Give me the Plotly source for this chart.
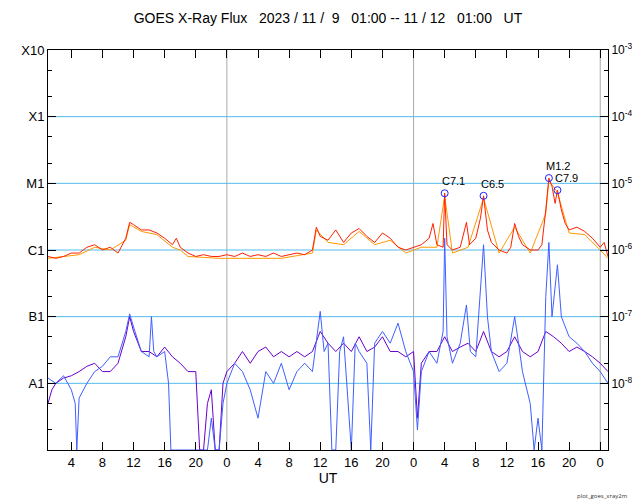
import math
import plotly.graph_objects as go

# time in hours since 2023-11-09 01:00 UT
red_t = [0,1,2,3,4,5,6,7,8,9,10,10.5,11,12,13,14,15,16,16.5,17,18,19,20,21,22,23,24,25,26,27,28,29,30,31,32,33,34,34.5,35,36,37,38,39,40,41,42,43,44,45,46,47,48,49,49.5,50,50.8,51.0,51.3,52,53,53.8,54.2,55,55.6,56.0,56.5,57,58,59,59.5,60,60.5,61,62,63,63.5,64.0,64.4,64.8,65.2,65.5,66,66.5,67,68,69,70,71,71.5,72]
red_v = [8e-7,7.5e-7,8e-7,9e-7,9e-7,1.1e-6,1.2e-6,1.0e-6,1.1e-6,9e-7,1.5e-6,2.6e-6,2.4e-6,2.0e-6,2.0e-6,1.8e-6,1.5e-6,1.2e-6,1.5e-6,1.1e-6,9e-7,8e-7,8.5e-7,8e-7,8e-7,8.5e-7,8e-7,9e-7,8e-7,8.5e-7,8e-7,9e-7,8e-7,8.5e-7,9e-7,8.5e-7,1.0e-6,2.2e-6,1.6e-6,1.4e-6,2.0e-6,1.3e-6,1.8e-6,2.1e-6,1.6e-6,1.3e-6,1.8e-6,1.5e-6,1.1e-6,1.0e-6,1.1e-6,1.2e-6,1.5e-6,2.5e-6,1.2e-6,1.1e-6,7.1e-6,1.2e-6,1.0e-6,1.1e-6,2.6e-6,1.2e-6,1.5e-6,3e-6,6.5e-6,2e-6,1.3e-6,1.0e-6,9e-7,1.1e-6,2.5e-6,1.6e-6,1.2e-6,1.0e-6,1.0e-6,1.2e-6,4e-6,1.2e-5,9e-6,5e-6,7.9e-6,4e-6,2.5e-6,2.0e-6,2.2e-6,1.9e-6,1.5e-6,1.1e-6,1.3e-6,8e-7]

orange_t = [0,4,6,8,10,10.5,12,14,16,17,18,22,26,30,34,34.5,36,38,40,42,44,46,48,50,51,52,54,56,58,60,62,64,64.4,65.5,67,69,71,72]
orange_v = [7.5e-7,8.5e-7,1.1e-6,1.0e-6,1.4e-6,2.4e-6,1.9e-6,1.7e-6,1.1e-6,1.0e-6,8e-7,7.5e-7,7.5e-7,7.5e-7,9e-7,2.0e-6,1.3e-6,1.2e-6,1.9e-6,1.2e-6,1.4e-6,9e-7,1.1e-6,1.1e-6,6.5e-6,9e-7,1.1e-6,6e-6,9e-7,2.2e-6,9e-7,3.5e-6,1.1e-5,7.3e-6,1.8e-6,1.7e-6,1.0e-6,7.5e-7]

blue_t = [0,1,2,3,3.5,3.7,4,5,6,7,8,9,10,10.5,11,12,13,13.3,13.6,14,15,15.5,15.8,20.5,21,21.5,22,22.5,23,24,25,26,27,28,29,30,31,32,33,34,35,35.5,36,36.5,37,37.5,38,39,39.5,40,41,41.5,42,43,44,45,46,47,47.5,48,49,50,50.8,51,51.3,52,53,53.8,54.3,55,56,56.5,57,58,59,60,60.5,61,62,62.5,63,63.5,64,64.4,64.8,65.5,66,67,68,69,70,71,72]
blue_v = [1.2e-8,1.0e-8,1.3e-8,8e-9,5e-9,1e-9,6e-9,1e-8,1.5e-8,1.8e-8,2.5e-8,2.5e-8,6e-8,1.1e-7,7e-8,3e-8,2.5e-8,1e-7,3e-8,2.5e-8,3e-8,1e-8,1e-9,1e-9,3e-9,1e-9,1e-9,5e-9,1e-8,2e-8,1.5e-8,8e-9,3e-9,1.5e-8,1e-8,2e-8,8e-9,1.5e-8,2e-8,1.5e-8,1.2e-7,3e-8,4e-8,1e-9,1e-9,3e-8,5e-8,1e-9,4e-8,3e-8,2e-8,1e-9,4e-8,6e-8,4e-8,8e-8,3e-8,1.5e-8,2e-9,1.5e-8,3e-8,2e-8,6e-8,1.5e-6,5e-8,2e-8,4e-8,1.5e-7,3e-8,2.5e-8,1.2e-6,1e-7,3e-8,1.5e-8,2e-8,1e-7,4e-8,1.5e-8,5e-9,1e-9,3e-9,1e-9,2e-7,1.3e-6,1e-7,6e-7,1e-7,5e-8,4e-8,3e-8,2e-8,1.5e-8,1e-8]

purple_t = [0,0.5,1,2,3,4,5,6,7,8,9,10,10.5,11,12,13,14,15,16,17,18,19,19.5,20,20.5,21,21.5,22,22.5,23,24,25,26,27,28,29,30,31,32,33,34,35,36,37,38,39,40,41,42,43,44,45,46,47,47.5,48,49,50,51,52,53,54,55,56,57,58,59,60,61,62,63,64,65,66,67,68,69,70,71,72]
purple_v = [5e-9,8e-9,1e-8,1.2e-8,1.3e-8,1.5e-8,1.8e-8,2e-8,1.5e-8,1.5e-8,2e-8,5e-8,1e-7,6e-8,3e-8,3e-8,2.5e-8,3.5e-8,2.5e-8,2e-8,1.5e-8,1.5e-8,1e-9,1e-9,5e-9,8e-9,1e-9,1e-9,1e-8,1.5e-8,2e-8,3e-8,2e-8,3e-8,3.5e-8,2.5e-8,3e-8,2.5e-8,3e-8,2.5e-8,3e-8,6e-8,4e-8,3e-8,4e-8,3e-8,5e-8,3e-8,3.5e-8,5e-8,3e-8,3e-8,2.5e-8,3e-8,3e-9,2e-8,3e-8,3e-8,5e-8,3e-8,3.5e-8,4e-8,3e-8,6e-8,3e-8,2.5e-8,3e-8,5e-8,3e-8,2.5e-8,3e-8,6e-8,5e-8,4e-8,3e-8,3.5e-8,3e-8,2.5e-8,2e-8,1.5e-8]

flare_t = [51.0, 56.0, 64.4, 65.5]
flare_v = [7.1e-6, 6.5e-6, 1.2e-5, 7.9e-6]
flare_lbl = ["C7.1", "C6.5", "M1.2", "C7.9"]

day_t = [23, 47, 71]
tick_t = [3,7,11,15,19,23,27,31,35,39,43,47,51,55,59,63,67,71]
tick_lbl = ["4","8","12","16","20","0","4","8","12","16","20","0","4","8","12","16","20","0"]
left_vals = [1e-8,1e-7,1e-6,1e-5,1e-4,1e-3]
left_lbl = ["A1","B1","C1","M1","X1","X10"]
right_lbl = ["10<sup>-8</sup>","10<sup>-7</sup>","10<sup>-6</sup>","10<sup>-5</sup>","10<sup>-4</sup>","10<sup>-3</sup>"]

fig = go.Figure()
fig.add_trace(go.Scatter(x=purple_t, y=purple_v, mode="lines", line=dict(color="#6a00cc", width=1)))
fig.add_trace(go.Scatter(x=blue_t, y=blue_v, mode="lines", line=dict(color="#3f5fff", width=1)))
fig.add_trace(go.Scatter(x=orange_t, y=orange_v, mode="lines", line=dict(color="#ff9900", width=1)))
fig.add_trace(go.Scatter(x=red_t, y=red_v, mode="lines", line=dict(color="#ff2000", width=1)))
fig.add_trace(go.Scatter(x=flare_t, y=flare_v, mode="markers",
                         marker=dict(symbol="circle-open", color="#2020ff", size=7, line=dict(width=1))))
fig.add_trace(go.Scatter(x=[0], y=[1e-6], yaxis="y2", mode="markers", marker=dict(opacity=0), hoverinfo="skip"))

for d in day_t:
    fig.add_shape(type="line", x0=d, x1=d, y0=0, y1=1, yref="paper", line=dict(color="#aaaaaa", width=1), layer="below")
for v in left_vals[:-1]:
    fig.add_shape(type="line", x0=0, x1=1, xref="paper", y0=v, y1=v, line=dict(color="#55bbee", width=1), layer="below")

for t, v, l in zip(flare_t, flare_v, flare_lbl):
    fig.add_annotation(x=t, y=math.log10(v), text=l, showarrow=False, yshift=12, xshift=9,
                       font=dict(family="Liberation Sans, Arial", size=11, color="black"))

axfont = dict(family="Liberation Sans, Arial", size=13, color="black")
fig.update_layout(
    width=640, height=500, showlegend=False, plot_bgcolor="white", paper_bgcolor="white",
    margin=dict(l=40, r=40, t=42, b=58),
    title=dict(text="GOES X-Ray Flux   2023 / 11 /  9   01:00 -- 11 / 12   01:00   UT", x=0.5, xanchor="center",
               yref="container", y=0.99, yanchor="top", font=dict(family="Liberation Sans, Arial", size=14, color="black")),
    xaxis=dict(range=[0, 72], tickvals=tick_t, ticktext=tick_lbl, ticks="inside", ticklen=8, tickcolor="black",
               showline=True, linecolor="black", mirror="ticks", showgrid=False, zeroline=False, tickfont=axfont,
               title=dict(text="UT", font=dict(family="Liberation Sans, Arial", size=14, color="black"), standoff=4)),
    yaxis=dict(type="log", range=[-9, -3], tickvals=left_vals, ticktext=left_lbl, ticks="inside", ticklen=8,
               tickcolor="black", showline=True, linecolor="black", showgrid=False, zeroline=False, tickfont=axfont,
               minor=dict(ticks="inside", ticklen=4, tickcolor="black")),
    yaxis2=dict(type="log", range=[-9, -3], overlaying="y", side="right", tickvals=left_vals, ticktext=right_lbl,
                ticks="inside", ticklen=8, tickcolor="black", showline=True, linecolor="black", showgrid=False,
                zeroline=False, ticklabelstandoff=0, tickfont=dict(family="Liberation Sans, Arial", size=12, color="black"),
                minor=dict(ticks="inside", ticklen=4, tickcolor="black")),
)
fig.add_annotation(x=1.04, y=-0.1, xref="paper", yref="paper", text="plot_goes_xray2m", showarrow=False,
                   xanchor="right", yanchor="top", font=dict(size=6, color="#333333"))
fig.write_html("out.html")
